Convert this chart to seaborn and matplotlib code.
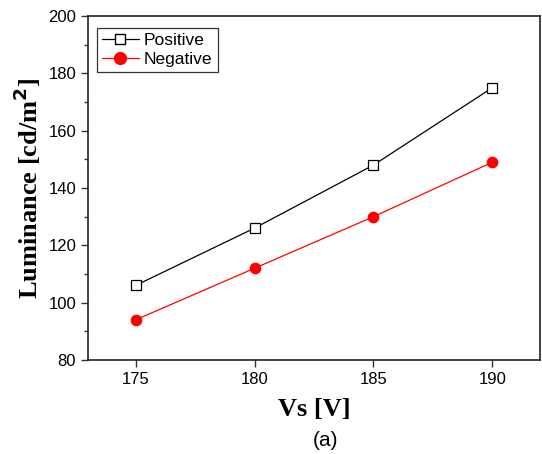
import numpy as np
import pandas as pd
import matplotlib
matplotlib.use('Agg')
import matplotlib.pyplot as plt
import seaborn as sns
from matplotlib.lines import Line2D

# --- data ---
vs = [175, 180, 185, 190]
positive = [106, 126, 148, 175]
negative = [94, 112, 130, 149]

df = pd.DataFrame({
    'Vs': vs * 2,
    'Luminance': positive + negative,
    'Series': ['Positive'] * len(vs) + ['Negative'] * len(vs),
})

sns.set_style('ticks')
plt.rcParams['font.family'] = ['Liberation Sans', 'DejaVu Sans']
plt.rcParams['text.color'] = 'black'
plt.rcParams['axes.labelcolor'] = 'black'
plt.rcParams['xtick.color'] = 'black'
plt.rcParams['ytick.color'] = 'black'

fig = plt.figure(figsize=(5.42, 4.54), dpi=100)
ax = fig.add_axes([88 / 542, 1 - 360 / 454, (540 - 88) / 542, (360 - 16) / 454])

sns.lineplot(data=df, x='Vs', y='Luminance', hue='Series', style='Series',
             palette={'Positive': 'black', 'Negative': 'red'},
             markers={'Positive': 's', 'Negative': 'o'},
             dashes=False, linewidth=0.9, ax=ax, legend=False)
# marker faces
for line, (fc, ms) in zip(ax.lines, [('white', 6.5), ('red', 7.5)]):
    line.set_markerfacecolor(fc)
    line.set_markersize(ms)
    line.set_markeredgewidth(0.9)
    line.set_markeredgecolor(line.get_color())

ax.set_xlim(173, 192)
ax.set_ylim(80, 200)
ax.set_xticks(vs)
ax.set_yticks(np.arange(80, 201, 20))
ax.set_yticks(np.arange(90, 200, 20), minor=True)
ax.tick_params(axis='both', which='major', direction='out', length=5, width=1,
               labelsize=12, color='#333333')
ax.tick_params(axis='y', which='minor', direction='out', length=3, width=1, color='#333333')
for sp in ax.spines.values():
    sp.set_visible(True)
    sp.set_linewidth(1.2)
    sp.set_color('#222222')

ax.set_xlabel('Vs [V]', fontsize=19, fontweight='bold', family='Liberation Serif', labelpad=8)
ax.set_ylabel('Luminance [cd/m$^\\mathbf{2}$]', fontsize=19, fontweight='bold',
              family='Liberation Serif', labelpad=4)

handles = [
    Line2D([], [], color='black', marker='s', markerfacecolor='white', markersize=7, lw=0.9),
    Line2D([], [], color='red', marker='o', markerfacecolor='red', markersize=8.5, lw=0.9),
]
leg = ax.legend(handles, ['Positive', 'Negative'], loc='upper left',
                bbox_to_anchor=(0.02, 0.965), fontsize=12.5, frameon=True, fancybox=False,
                edgecolor='black', handlelength=2.1, handletextpad=0.3,
                borderpad=0.3, labelspacing=0.2, borderaxespad=0)
leg.get_frame().set_linewidth(0.9)

fig.text(325 / 542, 1 - 440 / 454, '(a)', ha='center', va='center', fontsize=15)

fig.savefig('out.png', dpi=100)
